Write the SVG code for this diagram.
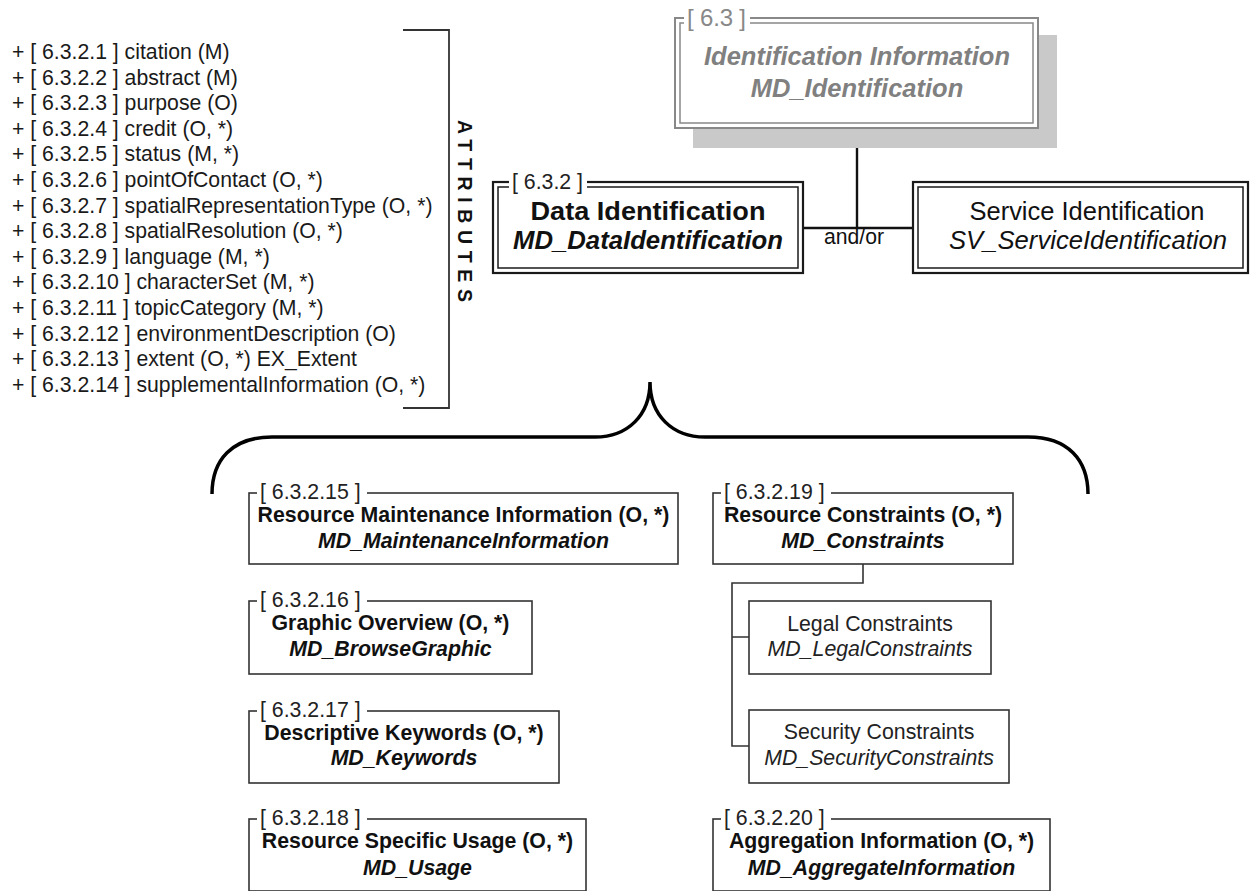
<svg xmlns="http://www.w3.org/2000/svg" width="1256" height="891" viewBox="0 0 1256 891">
<style>
text{font-family:"Liberation Sans",Arial,sans-serif}
.attr{font-size:22px;fill:#1a1a1a}
.lbl{font-size:21.3px;fill:#222}
.t{font-size:21.3px;font-weight:bold;fill:#111;text-anchor:middle}
.ti{font-size:21.3px;font-weight:bold;font-style:italic;fill:#111;text-anchor:middle}
.r{font-size:21.3px;fill:#222;text-anchor:middle}
.ri{font-size:21.3px;font-style:italic;fill:#222;text-anchor:middle}
.box{fill:#fff;stroke:#333;stroke-width:1.6}
.gap{fill:#fff;stroke:none}
.con{fill:none;stroke:#111;stroke-width:2.4}
.con2{fill:none;stroke:#333;stroke-width:1.6}
</style>

<g id="attributes">
<g transform="scale(0.965,1)">
<text class="attr" x="12.4" y="59">+ [ 6.3.2.1 ] citation (M)</text>
<text class="attr" x="12.4" y="84.6">+ [ 6.3.2.2 ] abstract (M)</text>
<text class="attr" x="12.4" y="110.2">+ [ 6.3.2.3 ] purpose (O)</text>
<text class="attr" x="12.4" y="135.8">+ [ 6.3.2.4 ] credit (O, *)</text>
<text class="attr" x="12.4" y="161.4">+ [ 6.3.2.5 ] status (M, *)</text>
<text class="attr" x="12.4" y="187">+ [ 6.3.2.6 ] pointOfContact (O, *)</text>
<text class="attr" x="12.4" y="212.6">+ [ 6.3.2.7 ] spatialRepresentationType (O, *)</text>
<text class="attr" x="12.4" y="238.2">+ [ 6.3.2.8 ] spatialResolution (O, *)</text>
<text class="attr" x="12.4" y="263.8">+ [ 6.3.2.9 ] language (M, *)</text>
<text class="attr" x="12.4" y="289.4">+ [ 6.3.2.10 ] characterSet (M, *)</text>
<text class="attr" x="12.4" y="315">+ [ 6.3.2.11 ] topicCategory (M, *)</text>
<text class="attr" x="12.4" y="340.6">+ [ 6.3.2.12 ] environmentDescription (O)</text>
<text class="attr" x="12.4" y="366.2">+ [ 6.3.2.13 ] extent (O, *) EX_Extent</text>
<text class="attr" x="12.4" y="391.8">+ [ 6.3.2.14 ] supplementalInformation (O, *)</text>
</g>
<path d="M403,30 H449 V408 H403" fill="none" stroke="#333" stroke-width="1.8"/>
<text transform="translate(458,211) rotate(90)" text-anchor="middle" font-size="19.5" font-weight="bold" fill="#111" textLength="182" lengthAdjust="spacing">ATTRIBUTES</text>
</g>

<g id="connectors">
<line class="con" x1="857" y1="128" x2="857" y2="228"/>
<line class="con" x1="803" y1="228" x2="913" y2="228"/>
<text x="854" y="244" text-anchor="middle" font-size="22" fill="#111" textLength="60" lengthAdjust="spacingAndGlyphs">and/or</text>
<path class="con2" d="M863,564 V583 H732 V746 H749 M732,637 H749"/>
</g>

<g id="brace">
<path d="M212,494 C212,460 232,437 272,437 L595,437 C628,437 650,415 650,382 C650,415 672,437 705,437 L1028,437 C1068,437 1088,460 1088,494" fill="none" stroke="#000" stroke-width="3.5"/>
</g>

<g id="n6_3">
<rect x="693" y="35" width="364" height="113" fill="#c9c9c9"/>
<rect x="675" y="18" width="363" height="110" fill="#fff" stroke="#888" stroke-width="2"/>
<rect x="680" y="23" width="353" height="100" fill="none" stroke="#888" stroke-width="1.5"/>
<rect class="gap" x="684" y="14" width="66" height="12"/>
<text x="687" y="26" font-size="24" fill="#888" textLength="59" lengthAdjust="spacing">[ 6.3 ]</text>
<text x="857" y="65" text-anchor="middle" font-size="25.5" font-weight="bold" font-style="italic" fill="#808080">Identification Information</text>
<text x="857" y="97" text-anchor="middle" font-size="25.5" font-weight="bold" font-style="italic" fill="#808080">MD_Identification</text>
</g>

<g id="n6_3_2">
<rect x="493" y="182" width="310" height="91" fill="#fff" stroke="#1a1a1a" stroke-width="2.2"/>
<rect x="498" y="187" width="300" height="81" fill="none" stroke="#1a1a1a" stroke-width="1.5"/>
<rect class="gap" x="509" y="177" width="78" height="13"/>
<text class="lbl" x="512" y="189">[ 6.3.2 ]</text>
<text x="648" y="220" text-anchor="middle" font-size="26" font-weight="bold" fill="#111" textLength="235" lengthAdjust="spacingAndGlyphs">Data Identification</text>
<text x="648" y="249" text-anchor="middle" font-size="26" font-weight="bold" font-style="italic" fill="#111" textLength="270" lengthAdjust="spacingAndGlyphs">MD_DataIdentification</text>
</g>

<g id="service">
<rect x="913" y="182" width="335" height="91" fill="#fff" stroke="#1a1a1a" stroke-width="2.2"/>
<rect x="918" y="187" width="325" height="81" fill="none" stroke="#1a1a1a" stroke-width="1.5"/>
<text x="1087" y="220" text-anchor="middle" font-size="26" fill="#111" textLength="235" lengthAdjust="spacingAndGlyphs">Service Identification</text>
<text x="1088" y="249" text-anchor="middle" font-size="26" font-style="italic" fill="#111" textLength="278" lengthAdjust="spacingAndGlyphs">SV_ServiceIdentification</text>
</g>

<g id="n6_3_2_15">
<rect class="box" x="249" y="493" width="429" height="71"/>
<rect class="gap" x="257" y="489" width="110" height="8"/>
<text class="lbl" x="260" y="499">[ 6.3.2.15 ]</text>
<text class="t" x="463.5" y="522">Resource Maintenance Information (O, *)</text>
<text class="ti" x="463.5" y="548">MD_MaintenanceInformation</text>
</g>

<g id="n6_3_2_16">
<rect class="box" x="249" y="601" width="283" height="73"/>
<rect class="gap" x="257" y="597" width="110" height="8"/>
<text class="lbl" x="260" y="607">[ 6.3.2.16 ]</text>
<text class="t" x="390.5" y="630">Graphic Overview (O, *)</text>
<text class="ti" x="390.5" y="656">MD_BrowseGraphic</text>
</g>

<g id="n6_3_2_17">
<rect class="box" x="249" y="711" width="310" height="72"/>
<rect class="gap" x="257" y="707" width="110" height="8"/>
<text class="lbl" x="260" y="717">[ 6.3.2.17 ]</text>
<text class="t" x="404" y="740">Descriptive Keywords (O, *)</text>
<text class="ti" x="404" y="765">MD_Keywords</text>
</g>

<g id="n6_3_2_18">
<rect class="box" x="249" y="819" width="337" height="72"/>
<rect class="gap" x="257" y="815" width="110" height="8"/>
<text class="lbl" x="260" y="825">[ 6.3.2.18 ]</text>
<text class="t" x="417.5" y="848">Resource Specific Usage (O, *)</text>
<text class="ti" x="417.5" y="875">MD_Usage</text>
</g>

<g id="n6_3_2_19">
<rect class="box" x="713" y="493" width="300" height="71"/>
<rect class="gap" x="721" y="489" width="110" height="8"/>
<text class="lbl" x="724" y="499">[ 6.3.2.19 ]</text>
<text class="t" x="863" y="522">Resource Constraints (O, *)</text>
<text class="ti" x="863" y="548">MD_Constraints</text>
</g>

<g id="legal">
<rect class="box" x="749" y="601" width="242" height="73"/>
<text class="r" x="870" y="631">Legal Constraints</text>
<text class="ri" x="870" y="656">MD_LegalConstraints</text>
</g>

<g id="security">
<rect class="box" x="749" y="710" width="260" height="73"/>
<text class="r" x="879" y="739">Security Constraints</text>
<text class="ri" x="879" y="765">MD_SecurityConstraints</text>
</g>

<g id="n6_3_2_20">
<rect class="box" x="713" y="819" width="337" height="72"/>
<rect class="gap" x="721" y="815" width="110" height="8"/>
<text class="lbl" x="724" y="825">[ 6.3.2.20 ]</text>
<text class="t" x="881.5" y="848">Aggregation Information (O, *)</text>
<text class="ti" x="881.5" y="875">MD_AggregateInformation</text>
</g>
</svg>
